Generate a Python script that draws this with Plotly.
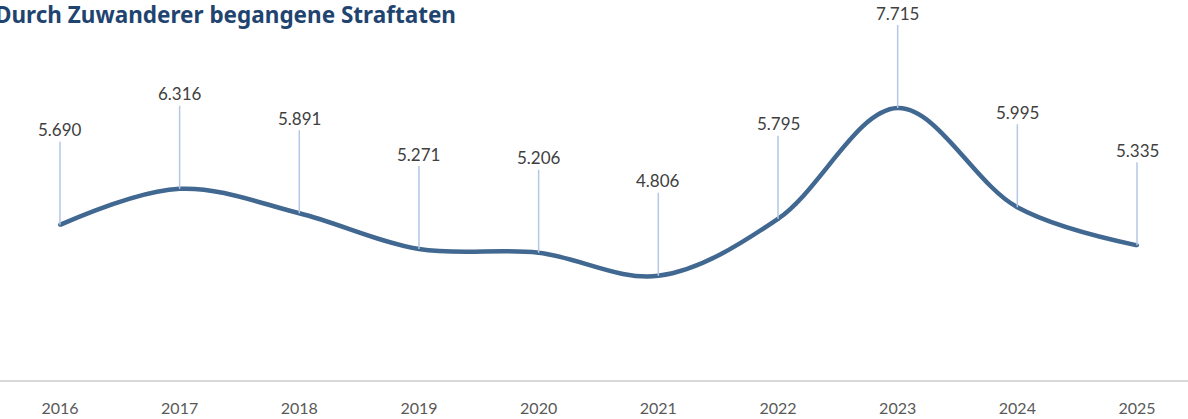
import plotly.graph_objects as go

# Daten
jahre = [2016, 2017, 2018, 2019, 2020, 2021, 2022, 2023, 2024, 2025]
straftaten = [5690, 6316, 5891, 5271, 5206, 4806, 5795, 7715, 5995, 5335]
titel = "Durch Zuwanderer begangene Straftaten"


def de_zahl(v):
    return f"{v:,}".replace(",", ".")


fig = go.Figure()
fig.add_trace(go.Scatter(
    x=jahre, y=straftaten, mode="lines+markers",
    line=dict(color="#416891", width=4.5, shape="spline", smoothing=1.0),
    marker=dict(size=4, color="#416891"),
    hoverinfo="skip", showlegend=False,
))

# Beschriftungen mit Fuehrungslinien
for j, v in zip(jahre, straftaten):
    fig.add_annotation(
        x=j, y=v, text=de_zahl(v), showarrow=True,
        arrowhead=0, arrowwidth=1.5, arrowcolor="#b4c7e7",
        ax=0, ay=-95, standoff=0,
        font=dict(family="Lato, Noto Sans, sans-serif", size=17, color="#404040"),
    )

fig.add_annotation(
    x=-0.006, y=1.0, xref="paper", yref="paper", xanchor="left", yanchor="middle",
    text="<b>" + titel + "</b>", showarrow=False, yshift=-14,
    font=dict(family="Noto Sans, Open Sans, sans-serif", size=22.5, color="#1f4470"),
)

fig.update_layout(
    width=1188, height=419,
    margin=dict(l=0, r=0, t=0, b=39, autoexpand=False),
    plot_bgcolor="white", paper_bgcolor="white",
    xaxis=dict(
        range=[2015.499, 2025.426], tickmode="array", tickvals=jahre,
        ticktext=[str(j) for j in jahre], showgrid=False, zeroline=False,
        showline=True, linecolor="#d9d9d9", linewidth=1.5,
        ticklabelstandoff=13, automargin=False,
        tickfont=dict(family="Lato, Noto Sans, sans-serif", size=16, color="#595959"),
    ),
    yaxis=dict(range=[3000, 9589], visible=False, automargin=False),
)

# Seitenrand des Browsers entfernen, damit die Grafik bei (0, 0) beginnt
fig.write_html("out.html", config={"displayModeBar": False},
               post_script="document.body.style.margin = '0px';")
